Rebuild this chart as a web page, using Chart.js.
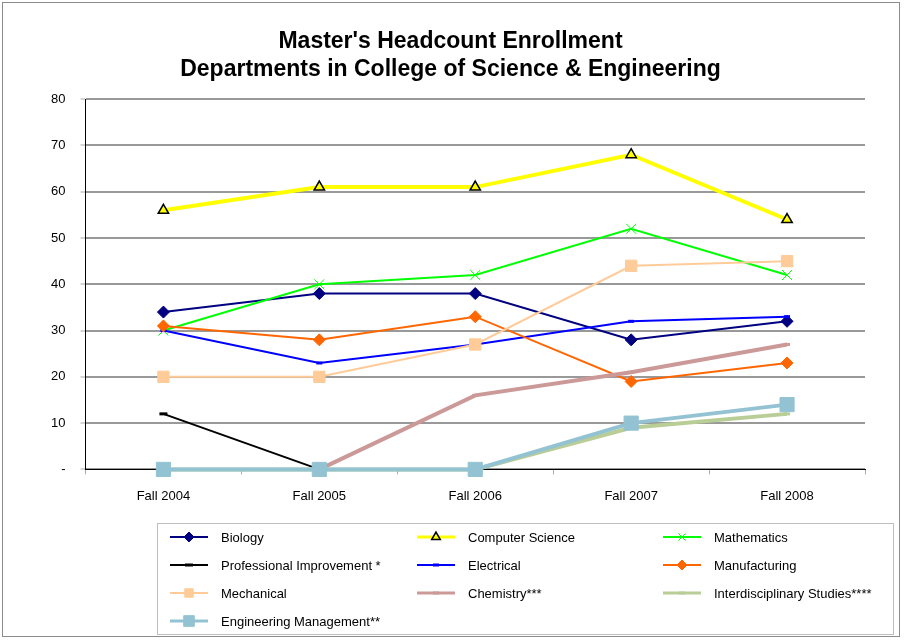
<!DOCTYPE html>
<html>
<head>
<meta charset="utf-8">
<script src="https://cdn.jsdelivr.net/npm/chart.js@4/dist/chart.umd.min.js"></script>
<style>
  html, body { margin: 0; padding: 0; background: #fff; }
  #wrap { position: absolute; left: 0; top: 0; width: 904px; height: 641px; }
  #frame { position: absolute; left: 2px; top: 2px; width: 898px; height: 635px; border: 1px solid #8c8c8c; box-sizing: border-box; pointer-events: none; }
</style>
</head>
<body>
<div id="wrap">
  <canvas id="myChart" width="904" height="641"></canvas>
  <div id="frame"></div>
</div>
<script>
var years = ['Fall 2004', 'Fall 2005', 'Fall 2006', 'Fall 2007', 'Fall 2008'];
var biology = [34, 38, 38, 28, 32];
var compSci = [56, 61, 61, 68, 54];
var mathematics = [30, 40, 42, 52, 42];
var profImprove = [12, 0, null, null, null];
var electrical = [30, 23, 27, 32, 33];
var manufacturing = [31, 28, 33, 19, 23];
var mechanical = [20, 20, 27, 44, 45];
var chemistry = [null, 0, 16, 21, 27];
var interdisc = [0, 0, 0, 9, 12];
var engMgmt = [0, 0, 0, 10, 14];

var n = 0;
function series(label, data, color, width, style, radius, fill, border, bw) {
  n++;
  return {
    label: label,
    data: data,
    order: 20 - n, // later series drawn on top, like excel
    clip: false,
    borderColor: color,
    borderWidth: width,
    pointStyle: style,
    pointRadius: radius,
    pointBackgroundColor: fill || color,
    pointBorderColor: border || color,
    pointBorderWidth: bw || 1,
    pointHoverRadius: radius,
    tension: 0,
    spanGaps: false
  };
}

var datasets = [
  series('Biology', biology, '#000080', 2, 'rectRot', 6),
  series('Computer Science', compSci, '#FFFF00', 4, 'triangle', 6, '#FFFF00', '#000000', 1.5),
  series('Mathematics', mathematics, '#00FF00', 2, 'crossRot', 7, '#00FF00', '#00FF00', 1),
  series('Professional Improvement *', profImprove, '#000000', 2, 'line', 4, '#000000', '#000000', 3),
  series('Electrical', electrical, '#0000FF', 2, 'line', 3, '#0000FF', '#0000FF', 3),
  series('Manufacturing', manufacturing, '#FF6600', 2, 'rectRot', 6),
  series('Mechanical', mechanical, '#FFCC99', 2, 'rect', 8),
  series('Chemistry***', chemistry, '#CC9999', 4, 'line', 3, '#CC9999', '#CC9999', 3),
  series('Interdisciplinary Studies****', interdisc, '#B9CD96', 4, 'line', 3, '#B9CD96', '#B9CD96', 3),
  series('Engineering Management**', engMgmt, '#93C3D3', 4, 'rect', 10)
];

// legend drawn on the canvas in 3 fixed columns
var gridLegend = {
  id: 'gridLegend',
  afterDraw: function(chart) {
    var ctx = chart.ctx;
    ctx.save();
    ctx.strokeStyle = '#bfbfbf';
    ctx.lineWidth = 1;
    ctx.strokeRect(157.5, 523.5, 736, 111);
    var cols = [170, 417, 663];
    var rows = [537, 565, 593, 621];
    chart.data.datasets.forEach(function(ds, i) {
      var x = cols[i % 3], y = rows[Math.floor(i / 3)];
      ctx.strokeStyle = ds.borderColor;
      ctx.lineWidth = Math.min(ds.borderWidth, 3);
      ctx.beginPath();
      ctx.moveTo(x, y);
      ctx.lineTo(x + 38, y);
      ctx.stroke();
      ctx.fillStyle = ds.pointBackgroundColor;
      ctx.strokeStyle = ds.pointBorderColor;
      ctx.lineWidth = ds.pointBorderWidth;
      var r = ds.pointStyle == 'rect' ? ds.pointRadius * 0.75 : Math.min(ds.pointRadius, 5);
      Chart.helpers.drawPoint(ctx, { pointStyle: ds.pointStyle, radius: r, rotation: 0, borderWidth: ds.pointBorderWidth }, x + 19, y);
      ctx.fillStyle = '#000';
      ctx.font = '13px "Liberation Sans", Arial, sans-serif';
      ctx.textBaseline = 'middle';
      ctx.fillText(ds.label, x + 51, y + 1);
    });
    ctx.restore();
  }
};

new Chart(document.getElementById('myChart'), {
  type: 'line',
  data: { labels: years, datasets: datasets },
  plugins: [gridLegend],
  options: {
    responsive: false,
    animation: false,
    layout: { padding: { left: 36, right: 39, top: 0, bottom: 123 } },
    plugins: {
      legend: { display: false },
      tooltip: { enabled: false },
      title: {
        display: true,
        text: ["Master's Headcount Enrollment", 'Departments in College of Science & Engineering'],
        color: '#000',
        font: { family: '"Liberation Sans", Arial, sans-serif', size: 23, weight: 'bold', lineHeight: 1.2 },
        padding: { top: 28, bottom: 16 }
      }
    },
    scales: {
      x: {
        offset: true,
        grid: { offset: true, drawOnChartArea: false, drawTicks: true, tickLength: 5, color: '#aaaaaa' },
        border: { color: '#000', width: 1 },
        ticks: { color: '#000', font: { family: '"Liberation Sans", Arial, sans-serif', size: 13 }, padding: 14 }
      },
      y: {
        min: 0,
        max: 80,
        grid: { color: '#999999', lineWidth: 2, tickLength: 5, tickColor: '#aaaaaa', tickWidth: 1 },
        border: { color: '#000', width: 1 },
        ticks: {
          stepSize: 10,
          color: '#000',
          font: { family: '"Liberation Sans", Arial, sans-serif', size: 13 },
          padding: 15,
          callback: function(v) { return v === 0 ? '-' : v; }
        }
      }
    }
  }
});
</script>
</body>
</html>
